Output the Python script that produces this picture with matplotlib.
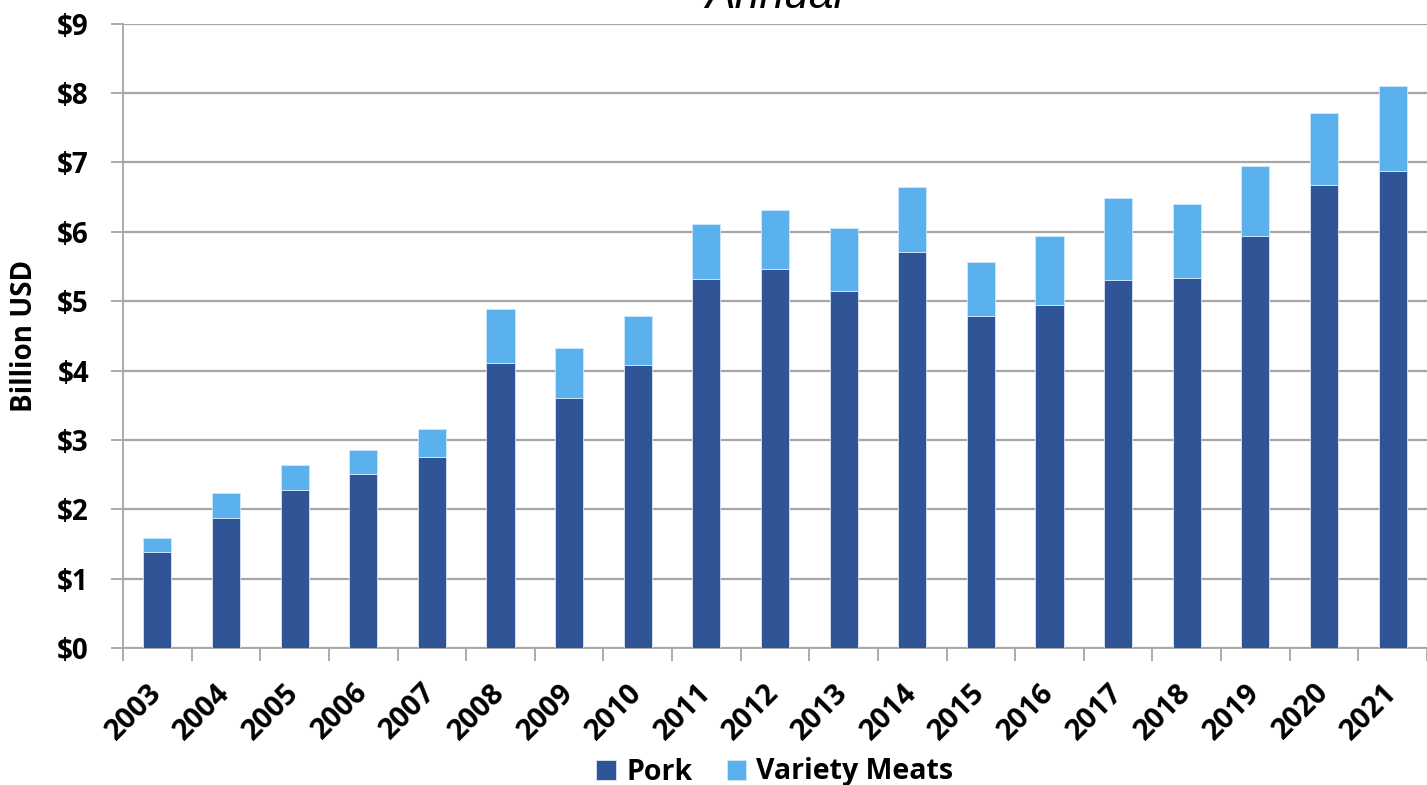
import matplotlib
matplotlib.use("Agg")
import matplotlib.pyplot as plt
import matplotlib.transforms as mtransforms
import numpy as np

plt.rcParams['font.family'] = ['Open Sans', 'DejaVu Sans']

years = ["2003", "2004", "2005", "2006", "2007", "2008", "2009", "2010", "2011", "2012",
         "2013", "2014", "2015", "2016", "2017", "2018", "2019", "2020", "2021"]
pork = [1.39, 1.88, 2.28, 2.51, 2.75, 4.11, 3.61, 4.08, 5.32, 5.46,
        5.14, 5.71, 4.78, 4.94, 5.31, 5.34, 5.94, 6.67, 6.87]
total = [1.58, 2.23, 2.64, 2.86, 3.15, 4.88, 4.33, 4.78, 6.11, 6.32,
         6.05, 6.65, 5.56, 5.94, 6.49, 6.40, 6.95, 7.71, 8.10]
variety = [round(t - p, 2) for t, p in zip(total, pork)]
yticks = [0, 1, 2, 3, 4, 5, 6, 7, 8, 9]
ytick_labels = ["$0", "$1", "$2", "$3", "$4", "$5", "$6", "$7", "$8", "$9"]

pork_color = "#2F5597"
var_color = "#5BB1ED"
grid_color = "#A6A6A6"
W = 'bold'

fig = plt.figure(figsize=(14.27, 7.85), dpi=100)
ax = fig.add_axes([123/1427, 1 - 648/785, 1 - 123/1427, (648 - 23.7)/785])

x = np.arange(len(years))
w = 0.41
ax.bar(x, pork, width=w, color=pork_color, edgecolor="#DCE6F5", linewidth=0.6, label="Pork", zorder=3)
ax.bar(x, variety, width=w, bottom=pork, color=var_color, edgecolor="#CFE8FA", linewidth=0.6,
       label="Variety Meats", zorder=3)

ax.set_xlim(-0.5, len(years) - 0.5)
ax.set_ylim(0, 9)
ax.set_yticks(yticks)
ax.set_yticklabels(ytick_labels, fontsize=20, fontweight=W)
ax.yaxis.grid(True, color=grid_color, linewidth=1.6, zorder=0)
ax.set_axisbelow(True)

ax.set_xticks(x)
ax.set_xticklabels(years, fontsize=21, fontweight=W, rotation=45, ha='right', va='center',
                   rotation_mode='anchor')
offset = mtransforms.ScaledTranslation(7/100, 0, fig.dpi_scale_trans)
for lbl in ax.get_xticklabels():
    lbl.set_transform(lbl.get_transform() + offset)
ax.set_xticks(np.arange(-0.5, len(years), 1), minor=True)
ax.tick_params(axis='x', which='major', length=0, pad=29)
ax.tick_params(axis='x', which='minor', length=9, width=1.3, color=grid_color)
ax.tick_params(axis='y', length=9, width=1.3, color=grid_color, pad=15.5)

for s in ['top', 'right']:
    ax.spines[s].set_visible(False)
for s in ['left', 'bottom']:
    ax.spines[s].set_color(grid_color)
    ax.spines[s].set_linewidth(1.3)

ax.set_ylabel("Billion USD", fontsize=20, fontweight=W, va='center')
ax.yaxis.set_label_coords((25 - 123) / 1304, 0.5)

fig.text(0.543, 1 - 8/785, "Annual", fontsize=32, style='italic', ha='center', va='baseline',
         family=['Liberation Sans', 'DejaVu Sans'])

leg = fig.legend(loc='center', bbox_to_anchor=(0.543, 1 - 772/785), ncol=2, frameon=False,
                 prop={'size': 20.5, 'weight': W}, handlelength=0.7, handleheight=0.7,
                 handletextpad=0.35, columnspacing=1.2, borderpad=0)

fig.savefig("out.png", dpi=100)
